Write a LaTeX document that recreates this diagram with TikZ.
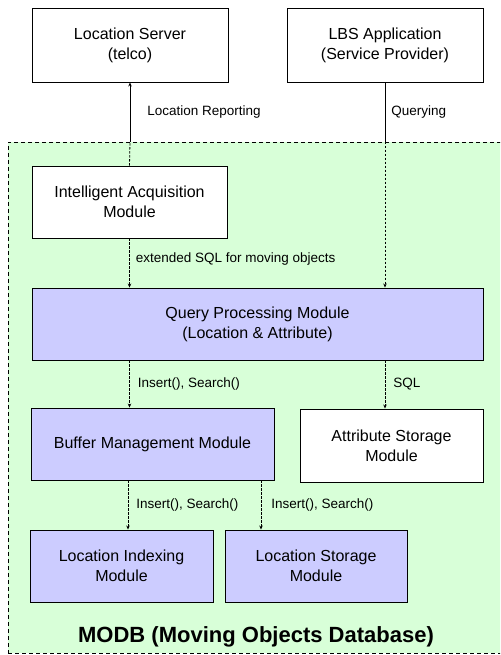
\documentclass[tikz,border=0pt]{standalone}
\usepackage{fontspec}
\setmainfont{Liberation Sans}
\usepackage{xcolor}
\usetikzlibrary{positioning, arrows.meta, calc}
\definecolor{modbgreen}{RGB}{216,255,216}
\definecolor{modlav}{RGB}{204,204,255}

\begin{document}
\begin{tikzpicture}[x=1pt, y=-1pt,
	box/.style={draw, line width=0.9pt, align=center, inner sep=0pt, font=\fontsize{16}{20}\selectfont},
	extbox/.style={box, fill=white, minimum width=196pt, minimum height=74pt},
	modbox/.style={box, fill=modlav},
	region/.style={draw, dashed, dash pattern=on 4pt off 3pt, line width=0.9pt, fill=modbgreen, inner sep=0pt},
	solidflow/.style={line width=0.9pt},
	dashflow/.style={line width=0.8pt, dash pattern=on 2.5pt off 1.5pt},
	tip/.style={-{Stealth[length=4pt, width=3.5pt]}},
	lbl/.style={right, font=\fontsize{13.5}{15}\selectfont, inner sep=8pt}]
	\useasboundingbox (0,0) rectangle (500,655);
	\begin{scope}
		\clip (0,0) rectangle (500,655);
		% MODB region
		\node[region, minimum width=502pt, minimum height=511pt] (modb) at (259,397.5) {};
	\end{scope}
	\node[font=\bfseries\fontsize{22}{24}\selectfont] (modbtitle) at (256,637) {MODB (Moving Objects Database)};
	
	% outside
	\node[extbox] (ls) at (130,45) {Location Server\\(telco)};
	\node[extbox] (lbs) at (385,45) {LBS Application\\(Service Provider)};
	
	% modules
	\node[box, fill=white, minimum width=195pt, minimum height=72pt] (iam) at (129.5,202) {Intelligent Acquisition\\Module};
	\node[modbox, minimum width=451pt, minimum height=72pt] (qpm) at (257.5,324) {Query Processing Module\\(Location \& Attribute)};
	\node[modbox, minimum width=243pt, minimum height=72pt] (bmm) at (152.5,444) {Buffer Management Module};
	\node[box, fill=white, minimum width=183pt, minimum height=73pt] (asm) at (391.5,445.5) {Attribute Storage\\Module};
	\node[modbox, minimum width=183pt, minimum height=72pt] (lix) at (121.5,566) {Location Indexing\\Module};
	\node[modbox, minimum width=182pt, minimum height=72pt] (lst) at (316,566) {Location Storage\\Module};
	
	\coordinate (colA) at (128,0);
	\coordinate (colB) at (261,0);
	
	% connectors
	\draw[dashflow] (iam.north) -- (modb.north -| ls);
	\draw[solidflow, tip] (modb.north -| ls) -- node[lbl, xshift=9pt] {Location Reporting} (ls.south);
	\draw[solidflow] (lbs.south) -- node[lbl, xshift=-2pt] {Querying} (modb.north -| lbs);
	\draw[dashflow, tip] (modb.north -| lbs) -- (qpm.north -| lbs);
	\draw[dashflow, tip] (iam.south) -- node[lbl, xshift=-2pt, yshift=4pt] {extended SQL for moving objects} (qpm.north -| iam);
	\draw[dashflow, tip] (qpm.south -| iam) -- node[lbl] {Insert(), Search()} (bmm.north -| iam);
	\draw[dashflow, tip] (qpm.south -| lbs) -- node[lbl] {SQL} (asm.north -| lbs);
	\draw[dashflow, tip] (bmm.south -| colA) -- node[lbl] {Insert(), Search()} (lix.north -| colA);
	\draw[dashflow, tip] (bmm.south -| colB) -- node[lbl, xshift=2pt] {Insert(), Search()} (lst.north -| colB);
\end{tikzpicture}
\end{document}
